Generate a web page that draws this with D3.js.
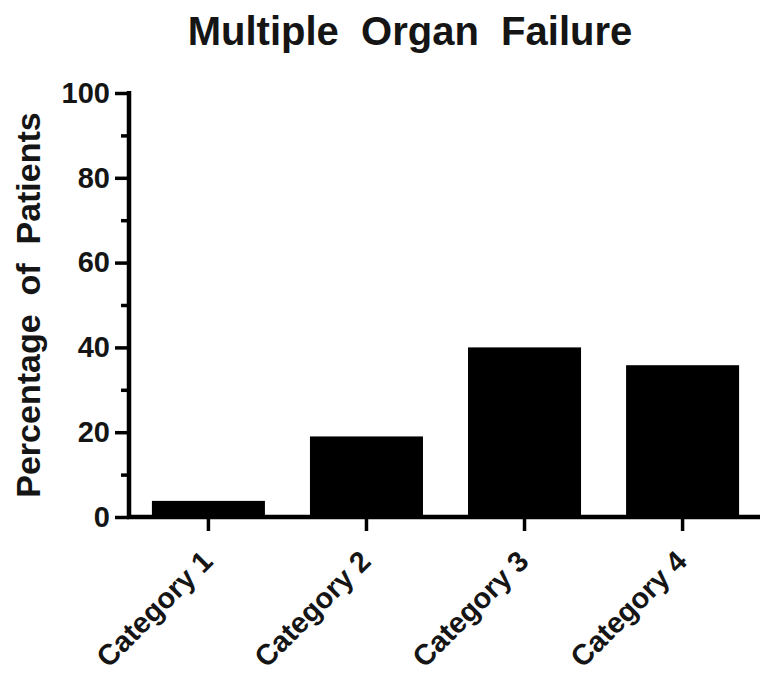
<!DOCTYPE html>
<html><head><meta charset="utf-8">
<script src="https://cdn.jsdelivr.net/npm/d3@7"></script>
<style>body{margin:0;background:#fff}svg{display:block}</style>
</head><body>
<script>
const categories = ["Category 1", "Category 2", "Category 3", "Category 4"];
const values = [3.8, 19, 40, 35.8];
const majorTicks = [0, 20, 40, 60, 80, 100];
const minorTicks = [10, 30, 50, 70, 90];
const title = "Multiple  Organ  Failure";
const yLabel = "Percentage  of  Patients";

const W = 760, H = 679;
const svg = d3.select("body").append("svg").attr("width", W).attr("height", H);
const font = "'Liberation Sans', Arial, sans-serif";
const ink = "#151515";

const x = d3.scaleBand().domain(categories).range([129, 762]).paddingInner(0.285).paddingOuter(0.145);
const y = d3.scaleLinear().domain([0, 100]).range([517, 93]);

svg.append("g").selectAll("rect").data(values).join("rect")
  .attr("x", (d, i) => x(categories[i]))
  .attr("width", x.bandwidth())
  .attr("y", d => y(d))
  .attr("height", d => y(0) - y(d))
  .attr("fill", "#000");

// y axis
const yAxis = svg.append("g").attr("transform", "translate(129,0)")
  .call(d3.axisLeft(y).tickValues(majorTicks).tickSize(14).tickPadding(5).tickSizeOuter(0));
yAxis.select(".domain").attr("stroke-width", 4.5).attr("stroke", "#000").attr("d", "M0,91V519");
yAxis.selectAll(".tick line").attr("stroke-width", 3.5).attr("stroke", "#000");
yAxis.selectAll("text").attr("font-family", font).attr("font-weight", "bold")
  .attr("font-size", 29).attr("fill", ink);
svg.append("g").attr("transform", "translate(129,0)")
  .call(d3.axisLeft(y).tickValues(minorTicks).tickSize(8).tickFormat(""))
  .call(g => g.select(".domain").remove())
  .selectAll(".tick line").attr("stroke-width", 3.5).attr("stroke", "#000");

// x axis
const xAxis = svg.append("g").attr("transform", "translate(0,517)")
  .call(d3.axisBottom(x).tickSize(14).tickSizeOuter(0).tickFormat(""));
xAxis.select(".domain").attr("stroke-width", 4.5).attr("stroke", "#000").attr("d", "M127,0H760");
xAxis.selectAll(".tick line").attr("stroke-width", 3.5).attr("stroke", "#000");
xAxis.selectAll(".tick").append("text")
  .text(d => d)
  .attr("transform", "translate(6,46) rotate(-45)")
  .attr("text-anchor", "end")
  .attr("font-family", font).attr("font-weight", "bold")
  .attr("font-size", 29).attr("fill", ink);

// title
svg.append("text").attr("x", 410).attr("y", 45).attr("text-anchor", "middle")
  .style("white-space", "pre")
  .attr("font-family", font).attr("font-weight", "bold").attr("font-size", 40).attr("fill", ink)
  .text(title);

// y label
svg.append("text").attr("transform", "translate(40,305) rotate(-90)")
  .attr("text-anchor", "middle").style("white-space", "pre")
  .attr("font-family", font).attr("font-weight", "bold").attr("font-size", 34).attr("fill", ink)
  .text(yLabel);
</script>
</body></html>
